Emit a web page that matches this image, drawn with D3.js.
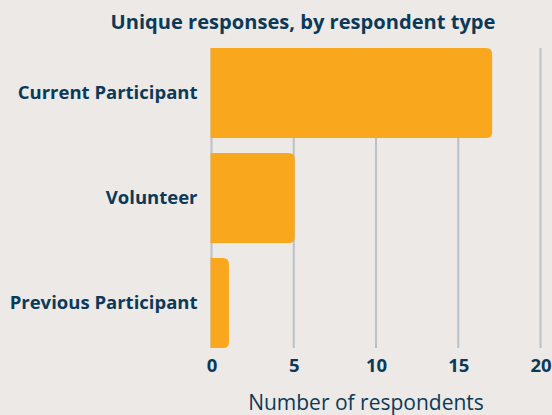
<!DOCTYPE html>
<html><head><meta charset="utf-8">
<script src="https://cdn.jsdelivr.net/npm/d3@7"></script>
<style>
html,body{margin:0;padding:0;background:#EDE9E6;}
svg{display:block;font-family:"Open Sans",sans-serif;}
</style></head>
<body><div id="chart"></div>
<script>
const categories = ["Current Participant", "Volunteer", "Previous Participant"];
const values = [17, 5, 1];
const xTicks = [0, 5, 10, 15, 20];
const title = "Unique responses, by respondent type";
const xTitle = "Number of respondents";

const W = 552, H = 415;
const navy = "#0B3A58", barColor = "#F9A81E", gridColor = "#B9C1C8";
const FONT = "Open Sans";
const svg = d3.select("#chart").append("svg").attr("width", W).attr("height", H);
svg.append("rect").attr("width", W).attr("height", H).attr("fill", "#EDE9E6");

const x = d3.scaleLinear().domain([0, 20]).range([211.5, 540.5]);
const y = d3.scaleBand().domain(categories).range([48, 348]).paddingInner(15/105).paddingOuter(0);

svg.append("g").selectAll("line").data(xTicks).join("line")
  .attr("x1", d => x(d)).attr("x2", d => x(d))
  .attr("y1", 48).attr("y2", 348)
  .attr("stroke", gridColor).attr("stroke-width", 2);

const r = 6;
svg.append("g").selectAll("path").data(categories).join("path")
  .attr("fill", barColor)
  .attr("d", (c, i) => {
    const x0 = x(0) - 1, x1 = x(values[i]) + 1, y0 = y(c), y1 = y(c) + y.bandwidth();
    const rr = Math.min(r, (x1 - x0) / 2);
    return `M${x0},${y0}H${x1 - rr}Q${x1},${y0} ${x1},${y0 + rr}V${y1 - rr}Q${x1},${y1} ${x1 - rr},${y1}H${x0}Z`;
  });

const xAxis = d3.axisBottom(x).tickValues(xTicks).tickSize(0).tickPadding(0);
const gx = svg.append("g").attr("transform", "translate(0,372)").call(xAxis);
gx.select(".domain").remove();
gx.selectAll("text").attr("fill", navy).attr("font-size", 18.5).attr("font-weight", 700)
  .attr("font-family", FONT).attr("dy", 0).attr("y", 0);

const yAxis = d3.axisLeft(y).tickSize(0).tickPadding(14);
const gy = svg.append("g").attr("transform", `translate(${x(0)},0)`).call(yAxis);
gy.select(".domain").remove();
gy.selectAll("text").attr("fill", navy).attr("font-size", 18.5).attr("font-weight", 700)
  .attr("font-family", FONT).attr("dy", "0.33em");

svg.append("text").attr("x", 366).attr("y", 409.5).attr("text-anchor", "middle")
  .attr("font-family", FONT).attr("fill", navy).attr("font-size", 21).text(xTitle);

svg.append("text").attr("x", 303).attr("y", 29.3).attr("text-anchor", "middle")
  .attr("font-family", FONT).attr("fill", navy).attr("font-size", 20.1).attr("font-weight", 700).text(title);
</script></body></html>
